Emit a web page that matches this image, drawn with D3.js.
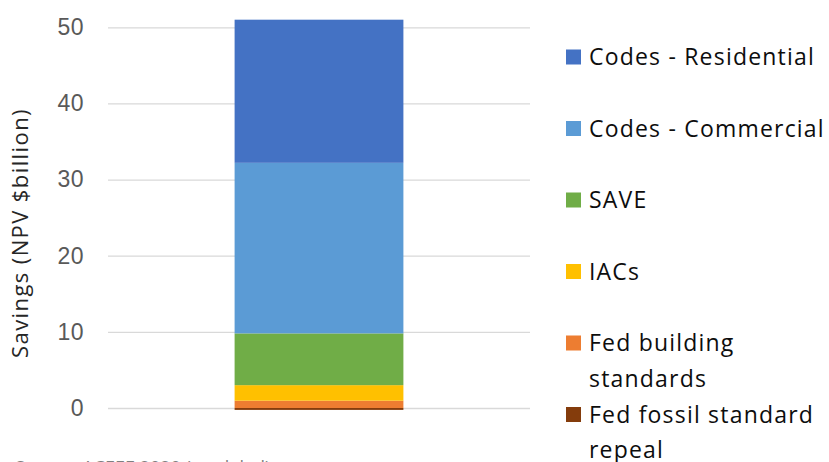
<!DOCTYPE html>
<html>
<head>
<meta charset="utf-8">
<script src="https://cdn.jsdelivr.net/npm/d3@7"></script>
<style>
  body { margin: 0; background: #fff; }
  svg { display: block; font-family: "Open Sans", "Noto Sans", sans-serif; }
</style>
</head>
<body>
<div id="chart"></div>
<script>
// chart values
const categories = ["Total"];
const seriesNames = ["Codes - Residential", "Codes - Commercial", "SAVE", "IACs", "Fed building standards", "Fed fossil standard repeal"];
const seriesValues = [18.8, 22.4, 6.8, 2.04, 0.96, -0.25];
const seriesColors = ["#4472C4", "#5B9BD5", "#70AD47", "#FFC000", "#ED7D31", "#843C0C"];
const legendLines = [["Codes - Residential"], ["Codes - Commercial"], ["SAVE"], ["IACs"], ["Fed building", "standards"], ["Fed fossil standard", "repeal"]];
const yTicks = [0, 10, 20, 30, 40, 50];
const yTitle = "Savings (NPV $billion)";
const sourceNote = "Source: ACEEE 2020 (modeled)";

const width = 829, height = 462;
const plot = {left: 108, right: 530, top: 27.3, bottom: 408};

const svg = d3.select("#chart")
  .append("svg")
  .attr("width", width)
  .attr("height", height);

// one row for the stack
const row = {cat: categories[0]};
seriesNames.forEach((n, i) => { row[n] = seriesValues[i]; });

// stack bottom-up (legend order is top-down)
const stack = d3.stack()
  .keys(seriesNames.slice().reverse())
  .offset(d3.stackOffsetDiverging);
const layers = stack([row]);

const x = d3.scaleBand()
  .domain(categories)
  .range([plot.left, plot.right])
  .paddingInner(0.6)
  .paddingOuter(0.3);

const y = d3.scaleLinear()
  .domain([0, 50])
  .range([plot.bottom, plot.top]);

const color = d3.scaleOrdinal().domain(seriesNames).range(seriesColors);

// gridlines + tick labels
const yAxis = svg.append("g")
  .attr("transform", `translate(${plot.left},0)`)
  .call(d3.axisLeft(y).tickValues(yTicks).tickSize(-(plot.right - plot.left)).tickPadding(24).tickFormat(d3.format("d")));
yAxis.select(".domain").remove();
yAxis.selectAll(".tick line").attr("stroke", "#d9d9d9").attr("stroke-width", 1.3);
yAxis.selectAll(".tick text")
  .attr("fill", "#595959")
  .style("font-size", "23px")
  .style("letter-spacing", "0.5px");

// the bar
svg.append("g")
  .selectAll("g")
  .data(layers)
  .join("g")
  .attr("fill", d => color(d.key))
  .selectAll("rect")
  .data(d => d)
  .join("rect")
  .attr("x", d => x(d.data.cat))
  .attr("width", x.bandwidth())
  .attr("y", d => y(d[1]))
  .attr("height", d => y(d[0]) - y(d[1]));

// y title
svg.append("text")
  .attr("transform", `translate(28,233) rotate(-90)`)
  .attr("text-anchor", "middle")
  .attr("fill", "#262626")
  .style("font-size", "22px")
  .style("letter-spacing", "1.4px")
  .text(yTitle);

// legend
const legend = svg.append("g")
  .selectAll("g")
  .data(seriesNames)
  .join("g")
  .attr("transform", (d, i) => `translate(566,${57 + i * 71.5})`);

legend.append("rect")
  .attr("x", 0)
  .attr("y", -7.5)
  .attr("width", 15)
  .attr("height", 15)
  .attr("fill", d => color(d));

legend.each(function(d, i) {
  const t = d3.select(this).append("text")
    .attr("x", 23)
    .attr("fill", "#0d0d0d")
    .style("font-size", "23px")
    .style("letter-spacing", "1.2px");
  legendLines[i].forEach((line, j) => {
    t.append("tspan")
      .attr("x", 23)
      .attr("y", 8 + j * 35.5)
      .text(line);
  });
});

// source note, mostly cut off by the picture edge
svg.append("text")
  .attr("x", 15)
  .attr("y", 474)
  .attr("fill", "#7f7f7f")
  .style("font-size", "18px")
  .text(sourceNote);
</script>
</body>
</html>
